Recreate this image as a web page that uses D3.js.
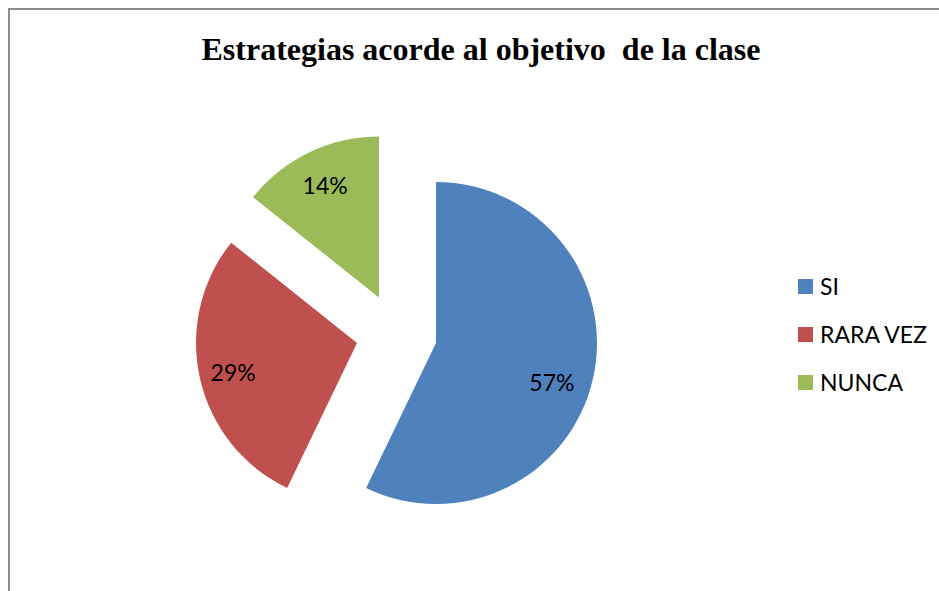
<!DOCTYPE html>
<html lang="es">
<head>
  <meta charset="utf-8">
  <title>Estrategias acorde al objetivo de la clase</title>
  <script src="https://cdn.jsdelivr.net/npm/d3@7"></script>
  <style>
    body { margin: 0; background: #fff; }
  </style>
</head>
<body>
  <script>
    // Datos
    const categories = ["SI", "RARA VEZ", "NUNCA"];
    const values = [4, 2, 1];
    const colors = ["#4F81BD", "#C0504D", "#9BBB59"];

    const w = 939, h = 591;
    const cx = 396.5, cy = 334;   // centro del pastel
    const r = 161;
    const explode = 40.5;
    // pequeños ajustes de las etiquetas (como las coloca Excel)
    const labelNudge = [[-5, 12], [-3, 2], [0, 0]];

    const svg = d3.select("body").append("svg")
      .attr("width", w)
      .attr("height", h);

    // Marco del área del gráfico
    svg.append("path")
      .attr("d", "M9," + h + " L9,9 L" + w + ",9")
      .attr("fill", "none")
      .attr("stroke", "#8c8c8c")
      .attr("stroke-width", 2);

    // Título
    svg.append("text")
      .attr("x", 481)
      .attr("y", 60)
      .attr("text-anchor", "middle")
      .attr("font-family", "'Liberation Serif', 'Times New Roman', serif")
      .attr("font-weight", "bold")
      .attr("font-size", 32)
      .attr("xml:space", "preserve")
      .text("Estrategias acorde al objetivo  de la clase");

    const total = d3.sum(values);
    const pie = d3.pie().sort(null).value(d => d);
    const arcs = pie(values);
    const arc = d3.arc().innerRadius(0).outerRadius(r);

    const g = svg.append("g").attr("transform", `translate(${cx},${cy})`);

    const slices = g.selectAll("g.slice")
      .data(arcs)
      .enter()
      .append("g")
      .attr("class", "slice")
      .attr("transform", function (d) {
        const a = (d.startAngle + d.endAngle) / 2;
        return `translate(${explode * Math.sin(a)},${-explode * Math.cos(a)})`;
      });

    slices.append("path")
      .attr("d", arc)
      .attr("fill", (d, i) => colors[i]);

    // Etiquetas de porcentaje
    slices.append("text")
      .attr("x", function (d, i) {
        const a = (d.startAngle + d.endAngle) / 2;
        return 124 * Math.sin(a) + labelNudge[i][0];
      })
      .attr("y", function (d, i) {
        const a = (d.startAngle + d.endAngle) / 2;
        return -124 * Math.cos(a) + 8 + labelNudge[i][1];
      })
      .attr("text-anchor", "middle")
      .attr("font-family", "Lato, 'Open Sans', sans-serif")
      .attr("font-size", 23)
      .attr("fill", "#000")
      .text(d => Math.round(d.data / total * 100) + "%");

    // Leyenda
    const legend = svg.append("g").attr("transform", "translate(798,279)");
    const items = legend.selectAll("g")
      .data(categories)
      .enter()
      .append("g")
      .attr("transform", (d, i) => `translate(0,${i * 48})`);

    items.append("rect")
      .attr("width", 15)
      .attr("height", 15)
      .attr("fill", (d, i) => colors[i]);

    items.append("text")
      .attr("x", 22)
      .attr("y", 16)
      .attr("font-family", "Lato, 'Open Sans', sans-serif")
      .attr("font-size", 23)
      .attr("fill", "#000")
      .text(d => d);
  </script>
</body>
</html>
